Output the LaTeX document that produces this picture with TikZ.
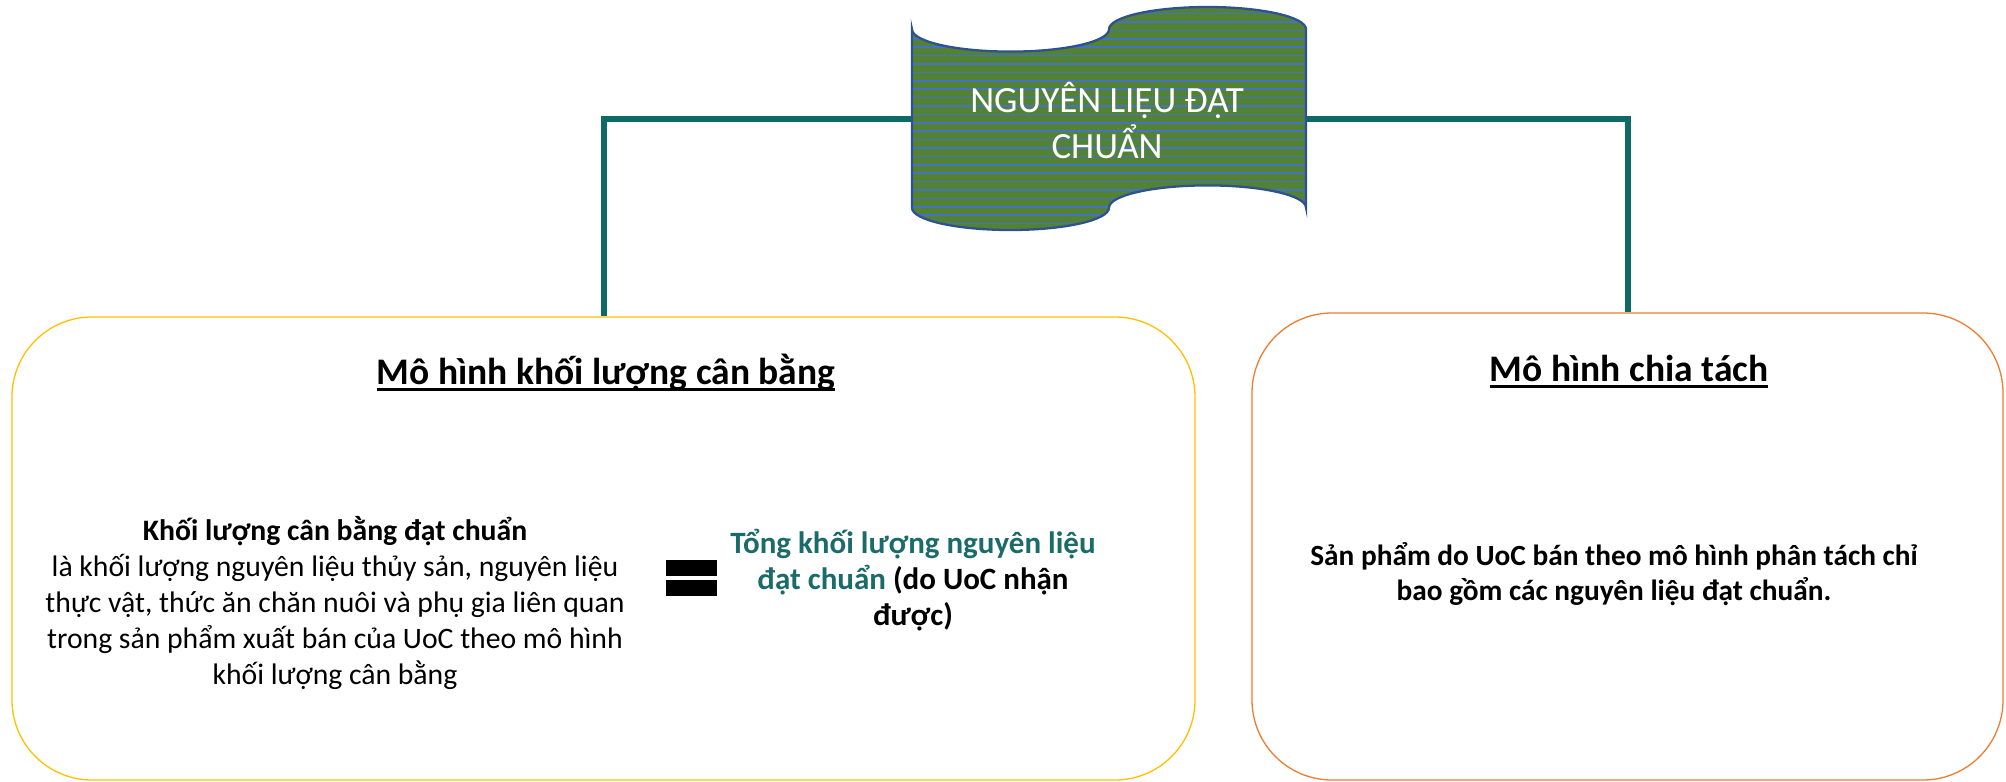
\documentclass[tikz,border=0pt]{standalone}
\usepackage{fontspec}
\setmainfont{Carlito}
\definecolor{teal1}{HTML}{0E6A66}
\definecolor{tealtxt}{HTML}{1A6B69}
\definecolor{bannergreen}{HTML}{548235}
\definecolor{stripeblue}{HTML}{4472C4}
\definecolor{bannerborder}{HTML}{2F528F}
\definecolor{gold}{HTML}{FFC000}
\definecolor{orange1}{HTML}{ED7D31}
\begin{document}
\begin{tikzpicture}[x=1pt,y=-1pt,
  modelbox/.style={draw, line width=1.3pt, rounded corners=80pt, inner sep=0pt},
  conn/.style={draw=teal1, line width=6pt},
  heading/.style={font=\fontsize{37.5}{44}\selectfont\bfseries, inner sep=0pt},
  uline/.style={draw=black, line width=2.6pt},
  body/.style={font=\fontsize{29.7}{36}\selectfont, align=center, inner sep=0pt},
  bodybold/.style={font=\fontsize{31}{36}\selectfont\bfseries, align=center, inner sep=0pt},
  rbodybold/.style={font=\fontsize{29.3}{35.5}\selectfont\bfseries, align=center, inner sep=0pt},
  bannertext/.style={font=\fontsize{37}{46}\selectfont, text=white, align=center, inner sep=0pt},
  eqbar/.style={fill=black, draw=none}
]
\useasboundingbox (0,0) rectangle (2006,782);
% boxes
\node[modelbox, draw=gold, minimum width=1183pt, minimum height=463pt] (lbox) at (603.5,548.5) {};
\node[modelbox, draw=orange1, minimum width=751pt, minimum height=467pt] (rbox) at (1627.5,546.5) {};
% banner anchor points
\coordinate (banL) at (912,119);
\coordinate (banR) at (1306,119);
% connectors
\draw[conn] (lbox.north) |- (banL);
\draw[conn] (banR) -| (rbox.north);
% banner shape (punched tape)
\def\bannerpath{(912,29.3) arc[start angle=180, end angle=0, x radius=98.5, y radius=22.3]
  arc[start angle=180, end angle=360, x radius=98.5, y radius=22.3]
  -- (1306,207.7)
  arc[start angle=360, end angle=180, x radius=98.5, y radius=22.3]
  arc[start angle=0, end angle=180, x radius=98.5, y radius=22.3]
  -- cycle}
\fill[bannergreen] \bannerpath;
\begin{scope}
  \clip \bannerpath;
  \foreach \i in {0,...,28} {
    \draw[stripeblue, line width=1.6pt] (900,5.2+\i*8.4) -- (1320,5.2+\i*8.4);
  }
\end{scope}
\draw[bannerborder, line width=2.3pt] \bannerpath;
\node[bannertext] (banner) at (1107,120) {NGUYÊN LIỆU ĐẠT\\CHUẨN};
% headings
\node[heading, anchor=base] (lhead) at (606,384) {Mô hình khối lượng cân bằng};
\draw[uline] ([yshift=-5.5pt]lhead.base west) -- ([yshift=-5.5pt]lhead.base east);
\node[heading, anchor=base] (rhead) at (1629,381) {Mô hình chia tách};
\draw[uline] ([yshift=-5.5pt]rhead.base west) -- ([yshift=-5.5pt]rhead.base east);
% left body
\node[body] (ldef) at (335,603) {\textbf{Khối lượng cân bằng đạt chuẩn}\\là khối lượng nguyên liệu thủy sản, nguyên liệu\\thực vật, thức ăn chăn nuôi và phụ gia liên quan\\trong sản phẩm xuất bán của UoC theo mô hình\\khối lượng cân bằng};
% equals sign
\node[eqbar, minimum width=51pt, minimum height=16pt, inner sep=0pt] (eqtop) at (691.5,568) {};
\node[eqbar, minimum width=51pt, minimum height=16pt, inner sep=0pt] (eqbot) at (691.5,588) {};
% right of equals
\node[bodybold] (ltot) at (913,580) {\textcolor{tealtxt}{Tổng khối lượng nguyên liệu}\\\textcolor{tealtxt}{đạt chuẩn} (do UoC nhận\\được)};
% right body
\node[rbodybold] (rdef) at (1614,574) {Sản phẩm do UoC bán theo mô hình phân tách chỉ\\bao gồm các nguyên liệu đạt chuẩn.};
\end{tikzpicture}
\end{document}
